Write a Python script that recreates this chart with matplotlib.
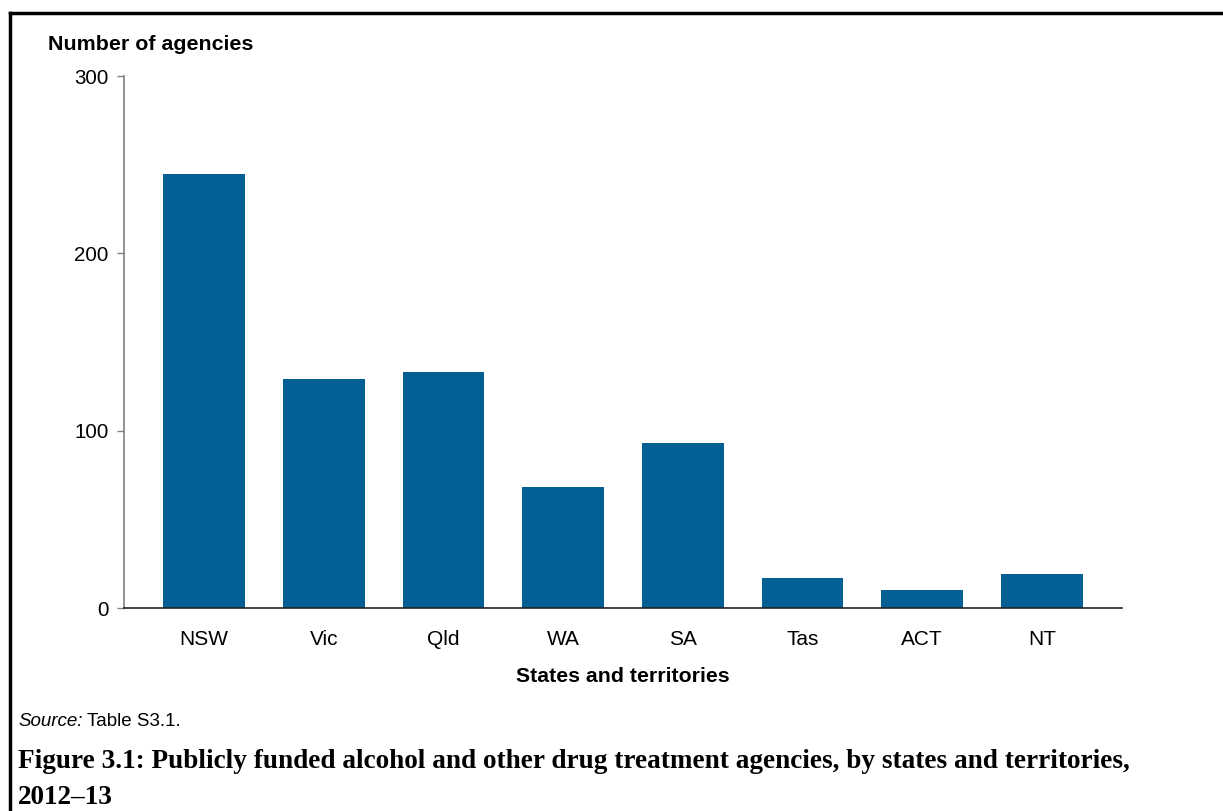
import matplotlib
matplotlib.use("Agg")
import matplotlib.pyplot as plt
from matplotlib.lines import Line2D

categories = ["NSW", "Vic", "Qld", "WA", "SA", "Tas", "ACT", "NT"]
agencies = [245, 129, 133, 68, 93, 17, 10, 19]
yticks = [0, 100, 200, 300]

W, H = 1223, 811
fig = plt.figure(figsize=(W / 100, H / 100), dpi=100)
plt.rcParams['font.family'] = ['Liberation Sans', 'DejaVu Sans']

def fx(px):
    return px / W

def fy(py):
    return 1 - py / H

ax = fig.add_axes([fx(124), fy(608), fx(1122) - fx(124), fy(76) - fy(608)])
x = list(range(len(categories)))
ax.bar(x, agencies, width=0.68, color="#035f94", zorder=2)
ax.set_xlim(-0.67, 7.67)
ax.set_ylim(0, 300)
ax.set_yticks(yticks)
ax.set_yticklabels([str(t) for t in yticks], fontsize=14.8)
ax.set_xticks(x)
ax.set_xticklabels(categories, fontsize=15)
ax.tick_params(axis='x', length=0, pad=16)
ax.tick_params(axis='y', length=5, width=1, color="#808080", pad=6, direction='out')
for s in ['top', 'right']:
    ax.spines[s].set_visible(False)
ax.spines['left'].set_color("#808080")
ax.spines['left'].set_linewidth(1.2)
ax.spines['bottom'].set_color("#222222")
ax.spines['bottom'].set_linewidth(1.2)

fig.text(fx(48), fy(45), "Number of agencies", fontsize=15.4, fontweight='bold',
         ha='left', va='center')
fig.text(fx(623), fy(677), "States and territories", fontsize=15.3, fontweight='bold',
         ha='center', va='center')
fig.text(fx(18), fy(722), "Source:", fontsize=13.5, style='italic', ha='left', va='center')
fig.text(fx(87), fy(722), "Table S3.1.", fontsize=13.5, ha='left', va='center')

title_font = ['Liberation Serif', 'DejaVu Serif']
fig.text(fx(18), fy(762),
         "Figure 3.1: Publicly funded alcohol and other drug treatment agencies, by states and territories,",
         fontsize=19.6, fontweight='bold', family=title_font, ha='left', va='center')
fig.text(fx(18), fy(797), "2012\u201313", fontsize=19.6, fontweight='bold',
         family=title_font, ha='left', va='center')

# Frame border (top and left)
fig.add_artist(Line2D([fx(10), fx(1223)], [fy(13), fy(13)], color='black', lw=2.5,
                      transform=fig.transFigure))
fig.add_artist(Line2D([fx(10), fx(10)], [fy(13), fy(811)], color='black', lw=2.5,
                      transform=fig.transFigure))

fig.savefig("out.png", dpi=100)
